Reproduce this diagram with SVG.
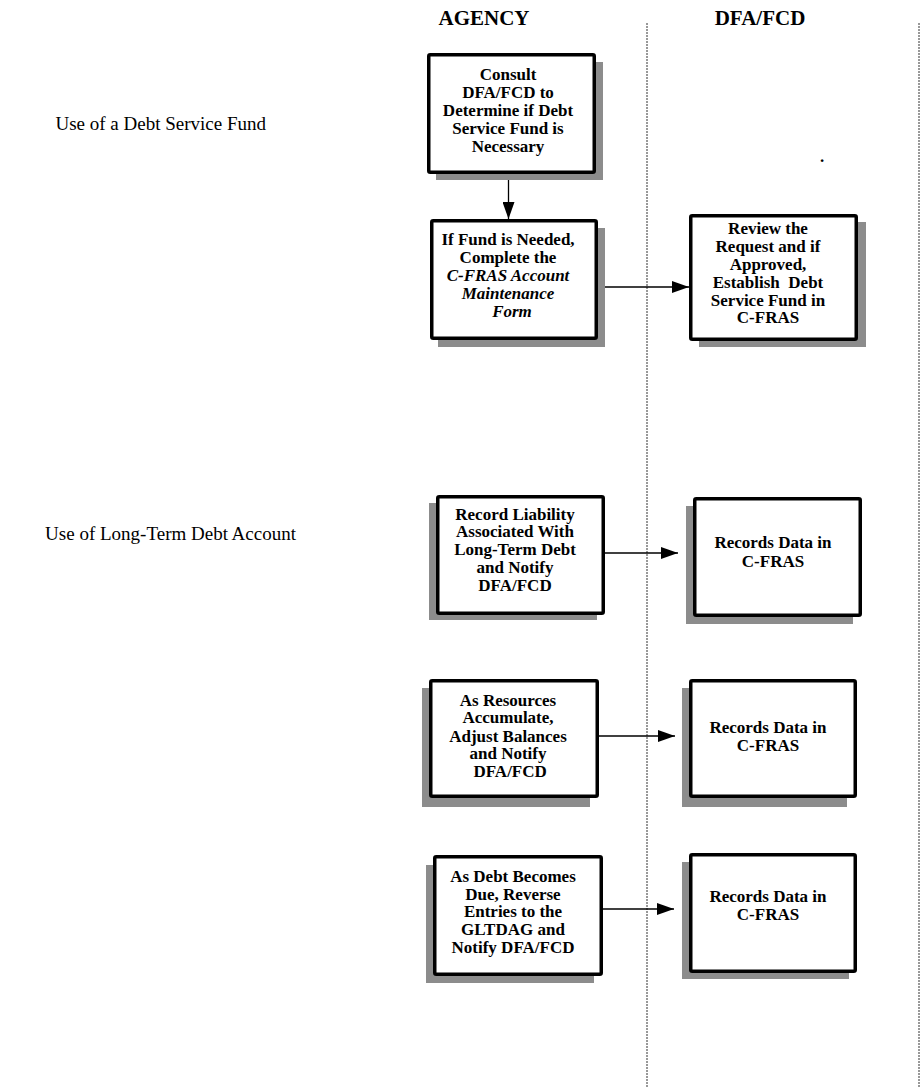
<svg xmlns="http://www.w3.org/2000/svg" width="924" height="1087" viewBox="0 0 924 1087">
<style>
.box{fill:#fff;stroke:#000;stroke-width:3.5}
.sh{fill:#8c8c8c}
.t{font-family:"Liberation Serif","Times New Roman",serif;font-weight:bold;font-size:17px;text-anchor:middle;fill:#000;white-space:pre}
.it{font-style:italic}
.hd{font-family:"Liberation Serif","Times New Roman",serif;font-weight:bold;font-size:21px;text-anchor:middle;fill:#000}
.lb{font-family:"Liberation Serif","Times New Roman",serif;font-size:19px;fill:#000;text-anchor:end}
.lane{stroke:#333;stroke-width:1;stroke-dasharray:2,1;fill:none}
.c{stroke:#000;stroke-width:1.3;fill:none;marker-end:url(#ah)}
</style>
<defs>
<marker id="ah" markerUnits="userSpaceOnUse" markerWidth="17" markerHeight="12" refX="17" refY="6" orient="auto">
<path d="M0,0 L17,6 L0,12 z" fill="#000"/>
</marker>
</defs>
<rect width="924" height="1087" fill="#fff"/>
<g id="lanes">
<line class="lane" x1="647" y1="23" x2="647" y2="1087"/>
<line class="lane" x1="919" y1="23" x2="919" y2="1087"/>
</g>
<g id="headers">
<text class="hd" x="484" y="25">AGENCY</text>
<text class="hd" x="760" y="25">DFA/FCD</text>
<text class="lb" x="266" y="130">Use of a Debt Service Fund</text>
<text class="lb" x="296" y="540">Use of Long-Term Debt Account</text>
<text class="t" x="822" y="162">.</text>
</g>
<g id="connectors">
<line class="c" x1="508.5" y1="174" x2="508.5" y2="219"/>
<line class="c" x1="598" y1="287" x2="689" y2="287"/>
<line class="c" x1="605" y1="553" x2="678" y2="553"/>
<line class="c" x1="599" y1="736" x2="675" y2="736"/>
<line class="c" x1="602" y1="909" x2="674" y2="909"/>
</g>
<g id="n1">
<rect class="sh" x="436" y="62" width="167" height="118"/>
<rect class="box" x="428.75" y="54.75" width="165.5" height="117.5" rx="1.5"/>
<text class="t" x="508" y="80">Consult</text>
<text class="t" x="508" y="98">DFA/FCD to</text>
<text class="t" x="508" y="116">Determine if Debt</text>
<text class="t" x="508" y="134">Service Fund is</text>
<text class="t" x="508" y="152">Necessary</text>
</g>
<g id="n2">
<rect class="sh" x="438" y="228" width="167" height="119"/>
<rect class="box" x="431.75" y="220.75" width="164.5" height="117.5" rx="1.5"/>
<text class="t" x="508" y="245">If Fund is Needed,</text>
<text class="t" x="508" y="263">Complete the</text>
<text class="t it" x="508" y="281">C-FRAS Account</text>
<text class="t it" x="508" y="299">Maintenance</text>
<text class="t it" x="512" y="317">Form</text>
</g>
<g id="n3">
<rect class="sh" x="699" y="222" width="167" height="125"/>
<rect class="box" x="690.75" y="215.75" width="165.5" height="123.5" rx="1.5"/>
<text class="t" x="768" y="234">Review the</text>
<text class="t" x="768" y="252">Request and if</text>
<text class="t" x="768" y="270">Approved,</text>
<text class="t" x="768" y="288">Establish  Debt</text>
<text class="t" x="768" y="306">Service Fund in</text>
<text class="t" x="768" y="323">C-FRAS</text>
</g>
<g id="n4">
<rect class="sh" x="429" y="503" width="168" height="117"/>
<rect class="box" x="437.75" y="496.75" width="165.5" height="116.5" rx="1.5"/>
<text class="t" x="515" y="520">Record Liability</text>
<text class="t" x="515" y="537">Associated With</text>
<text class="t" x="515" y="555">Long-Term Debt</text>
<text class="t" x="515" y="573">and Notify</text>
<text class="t" x="515" y="591">DFA/FCD</text>
</g>
<g id="n5">
<rect class="sh" x="686" y="506" width="167" height="118"/>
<rect class="box" x="694.75" y="498.75" width="165.5" height="116.5" rx="1.5"/>
<text class="t" x="773" y="548">Records Data in</text>
<text class="t" x="773" y="567">C-FRAS</text>
</g>
<g id="n6">
<rect class="sh" x="422" y="688" width="168" height="119"/>
<rect class="box" x="430.75" y="680.75" width="166.5" height="115.5" rx="1.5"/>
<text class="t" x="508" y="706">As Resources</text>
<text class="t" x="508" y="723">Accumulate,</text>
<text class="t" x="508" y="742">Adjust Balances</text>
<text class="t" x="508" y="759">and Notify</text>
<text class="t" x="508" y="777"> DFA/FCD</text>
</g>
<g id="n7">
<rect class="sh" x="682" y="688" width="165" height="119"/>
<rect class="box" x="690.75" y="680.75" width="164.5" height="115.5" rx="1.5"/>
<text class="t" x="768" y="733">Records Data in</text>
<text class="t" x="768" y="751">C-FRAS</text>
</g>
<g id="n8">
<rect class="sh" x="426" y="865" width="168" height="118"/>
<rect class="box" x="434.75" y="856.75" width="166.5" height="117.5" rx="1.5"/>
<text class="t" x="513" y="882">As Debt Becomes</text>
<text class="t" x="513" y="900">Due, Reverse</text>
<text class="t" x="513" y="917">Entries to the</text>
<text class="t" x="513" y="935">GLTDAG and</text>
<text class="t" x="513" y="953">Notify DFA/FCD</text>
</g>
<g id="n9">
<rect class="sh" x="682" y="862" width="167" height="117"/>
<rect class="box" x="690.75" y="854.75" width="164.5" height="116.5" rx="1.5"/>
<text class="t" x="768" y="902">Records Data in</text>
<text class="t" x="768" y="920">C-FRAS</text>
</g>
</svg>
